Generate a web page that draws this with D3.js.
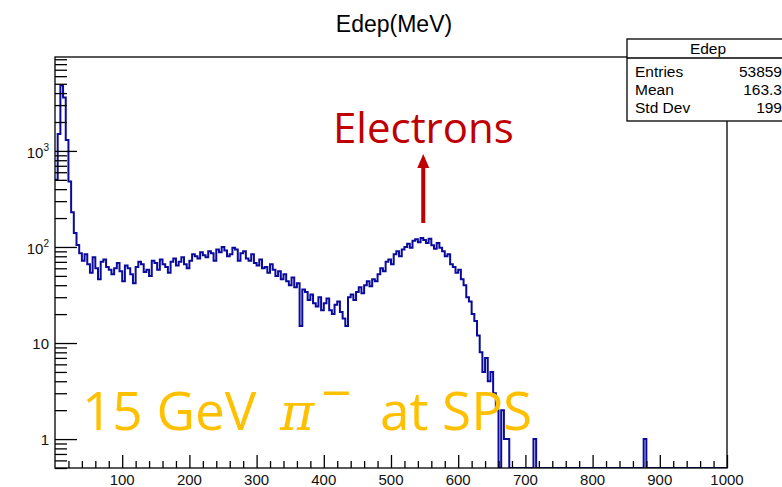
<!DOCTYPE html>
<html>
<head>
<meta charset="utf-8">
<script src="https://cdn.jsdelivr.net/npm/d3@7"></script>
<style>
  body { margin: 0; background: #fff; }
  svg { display: block; }
</style>
</head>
<body>
<script>
const svgWidth = 782;
const svgHeight = 487;

// histogram: Edep in 4 MeV bins from 0 to 1000 MeV
const binWidth = 4;
const counts = [
  500, 1500, 4800, 3600, 1300, 480, 230, 140, 105, 86,
  72, 84, 66, 54, 78, 60, 46, 70, 74, 62,
  58, 52, 60, 68, 56, 44, 64, 60, 52, 42,
  62, 70, 66, 55, 58, 50, 72, 68, 58, 74,
  66, 62, 54, 70, 76, 64, 70, 78, 66, 60,
  72, 84, 80, 76, 88, 82, 78, 90, 86, 72,
  94, 88, 100, 92, 80, 84, 98, 94, 72, 86,
  90, 76, 72, 84, 68, 64, 74, 60, 62, 54,
  66, 58, 50, 56, 46, 52, 44, 40, 48, 38,
  42, 15, 36, 34, 28, 32, 26, 24, 30, 22,
  26, 29, 22, 20, 25, 27, 21, 18, 15, 30,
  32, 28, 34, 38, 33, 40, 44, 39, 46, 44,
  52, 60, 56, 70, 74, 66, 84, 90, 80, 94,
  100, 108, 98, 116, 120, 112, 124, 118, 110, 122,
  104, 96, 110, 98, 90, 80, 84, 66, 62, 54,
  58, 46, 40, 30, 27, 20, 17, 12, 8, 5,
  7, 4, 5, 3, 2, 0, 2, 1, 1, 0,
  0, 0, 0, 0, 0, 0, 0, 0, 1, 0,
  0, 0, 0, 0, 0, 0, 0, 0, 0, 0,
  0, 0, 0, 0, 0, 0, 0, 0, 0, 0,
  0, 0, 0, 0, 0, 0, 0, 0, 0, 0,
  0, 0, 0, 0, 0, 0, 0, 0, 0, 1,
  0, 0, 0, 0, 0, 0, 0, 0, 0, 0,
  0, 0, 0, 0, 0, 0, 0, 0, 0, 0,
  0, 0, 0, 0, 0, 0, 0, 0, 0, 0
];

// axis ticks
const xMajorTicks = [100, 200, 300, 400, 500, 600, 700, 800, 900, 1000];
const yMajorTicks = [1, 10, 100, 1000];
const yTickLabels = [["1", ""], ["10", ""], ["10", "2"], ["10", "3"]];

// stats box
const statsTitle = "Edep";
const statsNames = ["Entries", "Mean", "Std Dev"];
const statsValues = ["53859", "163.3", "199"];

const xDomain = [0, 1000];
const yDomain = [0.5, 9500];

// frame of the plot
const frame = {left: 55, right: 727, top: 57, bottom: 468};

const xScale = d3.scaleLinear().domain(xDomain).range([frame.left, frame.right]);
const yScale = d3.scaleLog().domain(yDomain).range([frame.bottom, frame.top]);

const svg = d3.select("body").append("svg")
            .attr("width", svgWidth)
            .attr("height", svgHeight)
            .style("font-family", "'Liberation Sans', Arial, sans-serif");

svg.append("rect").attr("width", svgWidth).attr("height", svgHeight).attr("fill", "#fff");

svg.append("defs").append("clipPath").attr("id", "frameClip")
   .append("rect")
   .attr("x", frame.left).attr("y", frame.top)
   .attr("width", frame.right - frame.left)
   .attr("height", frame.bottom - frame.top);

// title
svg.append("text")
   .attr("x", 394).attr("y", 32)
   .attr("text-anchor", "middle")
   .attr("font-size", 23)
   .text("Edep(MeV)");

drawHistogram();
drawAxes();
drawStats();
drawAnnotations();

function drawHistogram() {
  let steps = counts.map((c, i) => [i * binWidth, c]);
  steps.push([xDomain[1], counts[counts.length - 1]]);
  const line = d3.line()
                 .curve(d3.curveStepAfter)
                 .x(d => xScale(d[0]))
                 .y(d => yScale(Math.max(d[1], yDomain[0])));
  svg.append("path")
     .attr("d", line(steps))
     .attr("clip-path", "url(#frameClip)")
     .attr("fill", "none")
     .attr("stroke", "#0a0a9c")
     .attr("stroke-width", 2);
}

function drawAxes() {
  // x minor ticks every 20, major every 100, pointing up into the frame
  let xMinor = d3.range(20, 1000, 20).filter(v => v % 100 != 0);
  let xAxisMajor = d3.axisBottom(xScale).tickValues(xMajorTicks).tickSize(-13).tickFormat("");
  let xAxisMinor = d3.axisBottom(xScale).tickValues(xMinor).tickSize(-7).tickFormat("");
  svg.append("g").attr("transform", "translate(0," + frame.bottom + ")").call(xAxisMajor);
  svg.append("g").attr("transform", "translate(0," + frame.bottom + ")").call(xAxisMinor);

  // y minor ticks 2..9 in each decade
  let yMinor = [];
  [0.1, 1, 10, 100, 1000].forEach(dec => {
    for (let k = 2; k <= 9; k++) {
      let v = dec * k;
      if (v >= yDomain[0] && v <= yDomain[1]) yMinor.push(v);
    }
  });
  let yAxisMajor = d3.axisLeft(yScale).tickValues(yMajorTicks).tickSize(-22).tickFormat("");
  let yAxisMinor = d3.axisLeft(yScale).tickValues(yMinor).tickSize(-12).tickFormat("");
  svg.append("g").attr("transform", "translate(" + frame.left + ",0)").call(yAxisMajor);
  svg.append("g").attr("transform", "translate(" + frame.left + ",0)").call(yAxisMinor);

  svg.selectAll(".domain").remove();
  svg.selectAll(".tick line").attr("stroke", "#000").attr("stroke-width", 1.3);

  // frame box
  svg.append("rect")
     .attr("x", frame.left).attr("y", frame.top)
     .attr("width", frame.right - frame.left)
     .attr("height", frame.bottom - frame.top)
     .attr("fill", "none")
     .attr("stroke", "#000")
     .attr("stroke-width", 1.3);

  // x tick labels
  svg.append("g").selectAll("text")
     .data(xMajorTicks).join("text")
     .attr("x", d => xScale(d))
     .attr("y", 485)
     .attr("text-anchor", "middle")
     .attr("font-size", 15)
     .attr("fill", "#111")
     .text(d => d);

  // y tick labels, 10^n style
  let yl = svg.append("g").selectAll("text")
     .data(yMajorTicks).join("text")
     .attr("x", 49)
     .attr("y", (d, i) => yScale(d) + (i >= 2 ? 7 : 5.5))
     .attr("text-anchor", "end")
     .attr("font-size", 15)
     .attr("fill", "#111");
  yl.append("tspan").text((d, i) => yTickLabels[i][0]);
  yl.append("tspan")
    .attr("dy", -7)
    .attr("font-size", 10)
    .text((d, i) => yTickLabels[i][1]);
}

function drawStats() {
  const box = {x: 627, y: 39, w: 170, h: 82, head: 19};
  let g = svg.append("g");
  g.append("rect")
   .attr("x", box.x).attr("y", box.y)
   .attr("width", box.w).attr("height", box.h)
   .attr("fill", "#fff")
   .attr("stroke", "#000")
   .attr("stroke-width", 1.3);
  g.append("line")
   .attr("x1", box.x).attr("x2", box.x + box.w)
   .attr("y1", box.y + box.head).attr("y2", box.y + box.head)
   .attr("stroke", "#000")
   .attr("stroke-width", 1.3);
  g.append("text")
   .attr("x", 708).attr("y", 54)
   .attr("text-anchor", "middle")
   .attr("font-size", 15.5)
   .text(statsTitle);
  g.selectAll(".sname").data(statsNames).join("text")
   .attr("class", "sname")
   .attr("x", 635)
   .attr("y", (d, i) => 77 + i * 18)
   .attr("font-size", 15.5)
   .text(d => d);
  g.selectAll(".sval").data(statsValues).join("text")
   .attr("class", "sval")
   .attr("x", 782)
   .attr("y", (d, i) => 77 + i * 18)
   .attr("text-anchor", "end")
   .attr("font-size", 15.5)
   .text(d => d);
}

function drawAnnotations() {
  const red = "#c00000";
  const orange = "#ffc000";
  // Electrons label and arrow
  svg.append("text")
     .attr("x", 333).attr("y", 143)
     .attr("font-family", "'Open Sans', sans-serif")
     .attr("font-size", 42)
     .attr("fill", red)
     .text("Electrons");
  let ax = xScale(548);
  svg.append("line")
     .attr("x1", ax).attr("x2", ax)
     .attr("y1", 223).attr("y2", 166)
     .attr("stroke", red)
     .attr("stroke-width", 4);
  svg.append("path")
     .attr("d", "M" + (ax - 6) + ",168 L" + ax + ",154 L" + (ax + 6) + ",168 Z")
     .attr("fill", red);

  // beam label
  let g = svg.append("g")
             .attr("font-family", "'Open Sans', sans-serif")
             .attr("font-size", 53)
             .attr("fill", orange);
  g.append("text").attr("x", 82).attr("y", 430).text("15 GeV");
  g.append("text").attr("x", 280).attr("y", 430)
   .attr("font-family", "'DejaVu Serif', serif")
   .attr("font-style", "italic")
   .attr("font-size", 52)
   .text("π");
  g.append("text").attr("x", 321).attr("y", 412).text("\u2212");
  g.append("text").attr("x", 380).attr("y", 430).text("at SPS");
}
</script>
</body>
</html>
